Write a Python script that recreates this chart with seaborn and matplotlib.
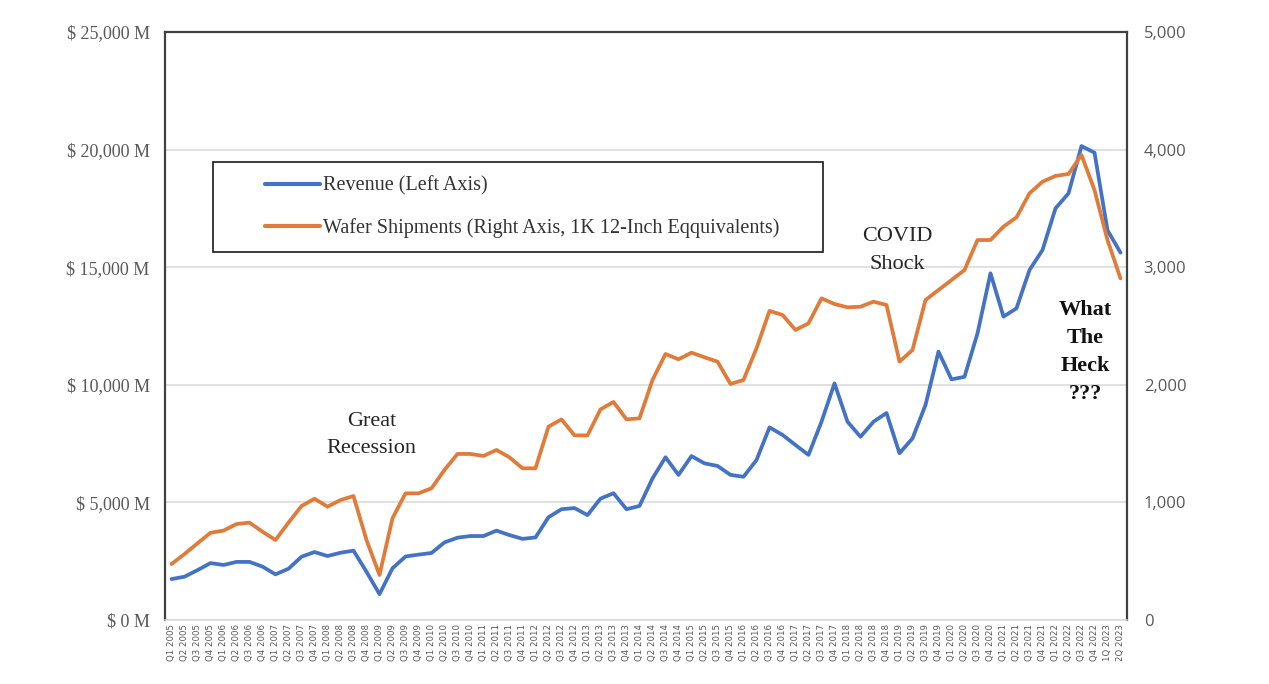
import matplotlib
matplotlib.use("Agg")
import matplotlib.pyplot as plt
import seaborn as sns
from matplotlib.patches import Rectangle
from matplotlib.lines import Line2D

# ---------------- data ----------------
quarters = [
    "Q1 2005", "Q2 2005", "Q3 2005", "Q4 2005",
    "Q1 2006", "Q2 2006", "Q3 2006", "Q4 2006",
    "Q1 2007", "Q2 2007", "Q3 2007", "Q4 2007",
    "Q1 2008", "Q2 2008", "Q3 2008", "Q4 2008",
    "Q1 2009", "Q2 2009", "Q3 2009", "Q4 2009",
    "Q1 2010", "Q2 2010", "Q3 2010", "Q4 2010",
    "Q1 2011", "Q2 2011", "Q3 2011", "Q4 2011",
    "Q1 2012", "Q2 2012", "Q3 2012", "Q4 2012",
    "Q1 2013", "Q2 2013", "Q3 2013", "Q4 2013",
    "Q1 2014", "Q2 2014", "Q3 2014", "Q4 2014",
    "Q1 2015", "Q2 2015", "Q3 2015", "Q4 2015",
    "Q1 2016", "Q2 2016", "Q3 2016", "Q4 2016",
    "Q1 2017", "Q2 2017", "Q3 2017", "Q4 2017",
    "Q1 2018", "Q2 2018", "Q3 2018", "Q4 2018",
    "Q1 2019", "Q2 2019", "Q3 2019", "Q4 2019",
    "Q1 2020", "Q2 2020", "Q3 2020", "Q4 2020",
    "Q1 2021", "Q2 2021", "Q3 2021", "Q4 2021",
    "Q1 2022", "Q2 2022", "Q3 2022", "Q4 2022",
    "1Q 2023", "2Q 2023",
]

revenue = [
    1740, 1840, 2120, 2420, 2340, 2470, 2470, 2270,
    1940, 2180, 2690, 2890, 2720, 2860, 2950, 2050,
    1100, 2200, 2700, 2780, 2850, 3300, 3500, 3570,
    3570, 3800, 3610, 3450, 3510, 4370, 4710, 4760,
    4460, 5160, 5390, 4710, 4850, 6020, 6920, 6170,
    6970, 6660, 6550, 6170, 6090, 6800, 8190, 7870,
    7440, 7020, 8430, 10060, 8430, 7790, 8430, 8800,
    7090, 7720, 9140, 11410, 10230, 10340, 12190, 14740,
    12900, 13250, 14880, 15730, 17500, 18140, 20150, 19870,
    16570, 15620,
]

wafers = [
    476, 561, 652, 742, 760, 816, 828, 751,
    680, 828, 969, 1031, 964, 1020, 1054, 680,
    383, 865, 1077, 1077, 1120, 1276, 1412, 1412,
    1395, 1446, 1383, 1290, 1290, 1644, 1706, 1570,
    1570, 1791, 1854, 1706, 1715, 2041, 2262, 2217,
    2273, 2234, 2197, 2007, 2041, 2310, 2628, 2594,
    2466, 2523, 2735, 2687, 2659, 2664, 2707, 2679,
    2197, 2296, 2721, 2806, 2891, 2976, 3231, 3231,
    3345, 3424, 3628, 3727, 3776, 3793, 3954, 3656,
    3231, 2905,
]

left_ticks = [0, 5000, 10000, 15000, 20000, 25000]
left_labels = ["$ 0 M", "$ 5,000 M", "$ 10,000 M", "$ 15,000 M", "$ 20,000 M", "$ 25,000 M"]
right_ticks = [0, 1000, 2000, 3000, 4000, 5000]
right_labels = ["0", "1,000", "2,000", "3,000", "4,000", "5,000"]

series_names = ["Revenue (Left Axis)",
                "Wafer Shipments (Right Axis, 1K 12-Inch Eqquivalents)"]

# ---------------- style ----------------
sns.set_style("white")
plt.rcParams["font.family"] = ["Liberation Serif", "DejaVu Serif"]

BLUE = "#4472C4"
ORANGE = "#E07B39"
GRAY_TXT = "#595959"
GRID = "#D9D9D9"

W, H = 1269, 684
fig = plt.figure(figsize=(W / 100, H / 100), dpi=100)
ax = fig.add_axes([165 / W, 64 / H, (1127 - 165) / W, (620 - 32) / H])
ax2 = ax.twinx()

xpos = list(range(len(quarters)))

sns.lineplot(x=xpos, y=revenue, ax=ax, color=BLUE, linewidth=2.7, legend=False)
sns.lineplot(x=xpos, y=wafers, ax=ax2, color=ORANGE, linewidth=2.7, legend=False)

ax.set_xlim(-0.5, len(quarters) - 0.5)
ax.set_ylim(0, 25000)
ax2.set_ylim(0, 5000)

ax.set_yticks(left_ticks)
ax.set_yticklabels(left_labels, fontsize=13, color=GRAY_TXT,
                   family=["Liberation Serif", "DejaVu Serif"])
ax2.set_yticks(right_ticks)
ax2.set_yticklabels(right_labels, fontsize=12, color=GRAY_TXT,
                    family=["Open Sans", "DejaVu Sans"])

ax.set_xticks(xpos)
ax.set_xticklabels(quarters, rotation=90, fontsize=6.2, color=GRAY_TXT,
                   family=["DejaVu Sans"])

ax.tick_params(axis="y", length=0, pad=11)
ax2.tick_params(axis="y", length=0, pad=12)
ax.tick_params(axis="x", length=0, pad=3)

ax.set_xlabel("")
ax.set_ylabel("")
ax2.set_ylabel("")

ax.yaxis.grid(True, color=GRID, linewidth=1.1)
ax.xaxis.grid(False)
ax.set_axisbelow(True)

for s in ["left", "top", "right"]:
    ax.spines[s].set_visible(True)
    ax.spines[s].set_color("#404040")
    ax.spines[s].set_linewidth(1.6)
ax.spines["bottom"].set_visible(True)
ax.spines["bottom"].set_color(GRID)
ax.spines["bottom"].set_linewidth(1.1)
for s in ax2.spines.values():
    s.set_visible(False)

# ---------------- annotations ----------------
ax.text(15.4, 7870, "Great\nRecession", ha="center", va="center",
        fontsize=16, color="#262626", linespacing=1.6)
ax.text(55.8, 15710, "COVID\nShock", ha="center", va="center",
        fontsize=16, color="#262626", linespacing=1.6)
ax.text(70.3, 11395, "What\nThe\nHeck\n???", ha="center", va="center",
        fontsize=16, fontweight="bold", color="#111111", linespacing=1.55)

# ---------------- legend ----------------
handles = [Line2D([], [], color=BLUE, linewidth=3),
           Line2D([], [], color=ORANGE, linewidth=3)]
fig.legend(handles, series_names, loc="center left",
           bbox_to_anchor=(255 / W, 1 - 207 / H), bbox_transform=fig.transFigure,
           frameon=False, borderpad=0, handlelength=2.75, handletextpad=0.12,
           labelspacing=1.1, prop={"family": ["Liberation Serif"], "size": 14.5},
           labelcolor="#333333")
fig.patches.append(Rectangle((213 / W, 1 - 252 / H), 610 / W, 90 / H,
                             transform=fig.transFigure, fill=False,
                             edgecolor="#1a1a1a", linewidth=1.2))

fig.savefig("out.png", dpi=100, facecolor="white")
